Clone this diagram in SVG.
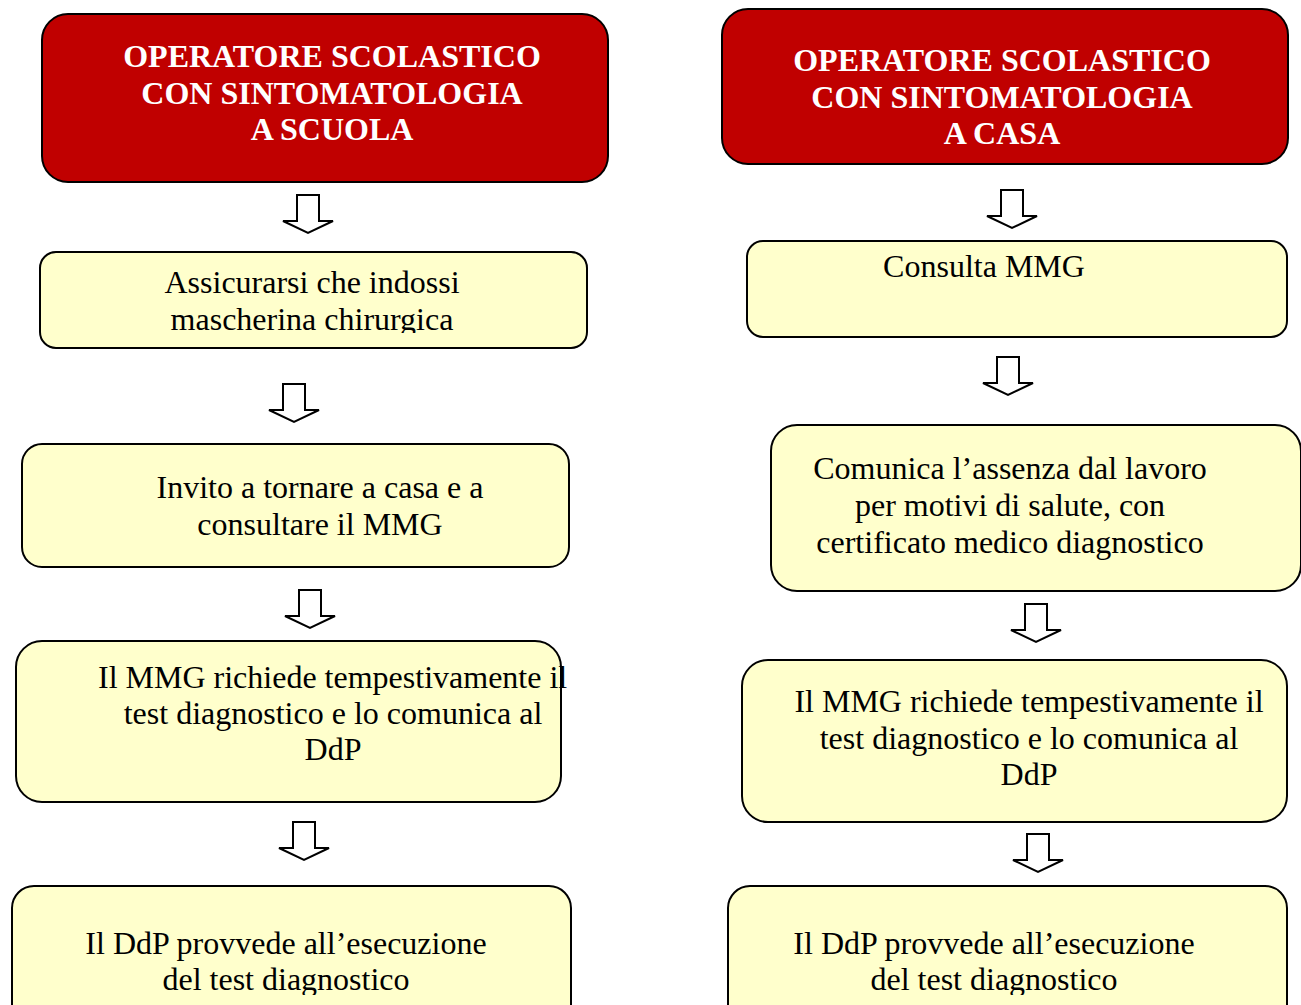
<svg xmlns="http://www.w3.org/2000/svg" width="1301" height="1005" viewBox="0 0 1301 1005">
<style>
.title{fill:#C00000;stroke:#000;stroke-width:2}
.box{fill:#FFFFCC;stroke:#000;stroke-width:2}
.tt{font-family:"Liberation Serif","Times New Roman",serif;font-weight:bold;font-size:32px;fill:#fff;text-anchor:middle}
.t{font-family:"Liberation Serif","Times New Roman",serif;font-size:32px;fill:#000;text-anchor:middle}
.ar{fill:#fff;stroke:#000;stroke-width:2;stroke-linejoin:miter}
</style>
<defs>
<path id="arr" d="M-11,0 L11,0 L11,26 L25,26 L0,38 L-25,26 L-11,26 Z"/>
<clipPath id="c1"><rect x="0" y="0" width="1301" height="333"/></clipPath>
<clipPath id="c2"><rect x="0" y="0" width="1301" height="995"/></clipPath>
</defs>
<rect width="1301" height="1005" fill="#fff"/>
<g id="connectors">
<use href="#arr" class="ar" x="308" y="195"/>
<use href="#arr" class="ar" x="294" y="384"/>
<use href="#arr" class="ar" x="310" y="590"/>
<use href="#arr" class="ar" x="304" y="822"/>
<use href="#arr" class="ar" x="1012" y="190"/>
<use href="#arr" class="ar" x="1008" y="357"/>
<use href="#arr" class="ar" x="1036" y="604"/>
<use href="#arr" class="ar" x="1038" y="834"/>
</g>
<g id="l1">
<rect class="title" x="42" y="14" width="566" height="168" rx="26"/>
<text class="tt" x="332" y="67">OPERATORE SCOLASTICO</text>
<text class="tt" x="332" y="104">CON SINTOMATOLOGIA</text>
<text class="tt" x="332" y="140">A SCUOLA</text>
</g>
<g id="l2">
<rect class="box" x="40" y="252" width="547" height="96" rx="16"/>
<text class="t" x="312" y="293">Assicurarsi che indossi</text>
<text class="t" x="312" y="330" clip-path="url(#c1)">mascherina chirurgica</text>
</g>
<g id="l3">
<rect class="box" x="22" y="444" width="547" height="123" rx="20"/>
<text class="t" x="320" y="498">Invito a tornare a casa e a</text>
<text class="t" x="320" y="535">consultare il MMG</text>
</g>
<g id="l4">
<rect class="box" x="16" y="641" width="545" height="161" rx="26"/>
<text class="t" x="98" y="688" style="text-anchor:start">Il MMG richiede tempestivamente il</text>
<text class="t" x="333" y="724">test diagnostico e lo comunica al</text>
<text class="t" x="333" y="760">DdP</text>
</g>
<g id="l5">
<rect class="box" x="12" y="886" width="559" height="140" rx="22"/>
<text class="t" x="286" y="954">Il DdP provvede all’esecuzione</text>
<text class="t" x="286" y="990" clip-path="url(#c2)">del test diagnostico</text>
</g>
<g id="r1">
<rect class="title" x="722" y="9" width="566" height="155" rx="26"/>
<text class="tt" x="1002" y="71">OPERATORE SCOLASTICO</text>
<text class="tt" x="1002" y="108">CON SINTOMATOLOGIA</text>
<text class="tt" x="1002" y="144">A CASA</text>
</g>
<g id="r2">
<rect class="box" x="747" y="241" width="540" height="96" rx="16"/>
<text class="t" x="984" y="277">Consulta MMG</text>
</g>
<g id="r3">
<rect class="box" x="771" y="425" width="530" height="166" rx="26"/>
<text class="t" x="1010" y="479">Comunica l’assenza dal lavoro</text>
<text class="t" x="1010" y="516">per motivi di salute, con</text>
<text class="t" x="1010" y="553">certificato medico diagnostico</text>
</g>
<g id="r4">
<rect class="box" x="742" y="660" width="545" height="162" rx="26"/>
<text class="t" x="1029" y="712">Il MMG richiede tempestivamente il</text>
<text class="t" x="1029" y="749">test diagnostico e lo comunica al</text>
<text class="t" x="1029" y="785">DdP</text>
</g>
<g id="r5">
<rect class="box" x="728" y="886" width="559" height="140" rx="22"/>
<text class="t" x="994" y="954">Il DdP provvede all’esecuzione</text>
<text class="t" x="994" y="990" clip-path="url(#c2)">del test diagnostico</text>
</g>
</svg>
